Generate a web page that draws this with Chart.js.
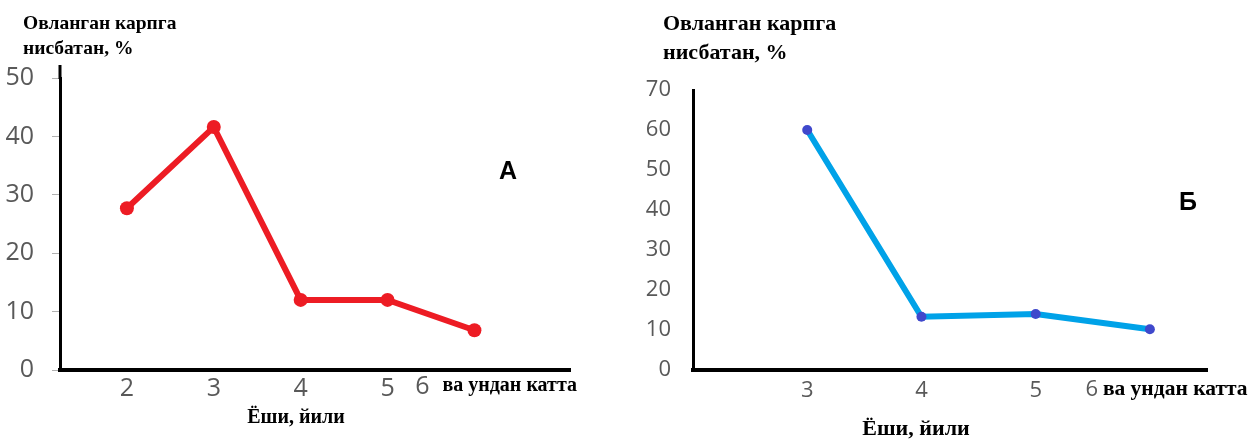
<!DOCTYPE html>
<html>
<head>
<meta charset="utf-8">
<script src="https://cdn.jsdelivr.net/npm/chart.js@4/dist/chart.umd.min.js"></script>
<style>
  body { margin: 0; background: #fff; }
  .box { position: absolute; top: 0; width: 625px; height: 441px; }
</style>
</head>
<body>
<div class="box" style="left:0"><canvas id="chartA" width="625" height="441"></canvas></div>
<div class="box" style="left:625px"><canvas id="chartB" width="625" height="441"></canvas></div>
<script>
// ages (years) and share of the catch, %
const agesA = ['2', '3', '4', '5', '6'];
const shareA = [27.7, 41.6, 12, 12, 6.8];
const agesB = ['3', '4', '5', '6'];
const shareB = [60, 13.3, 14, 10.2];
const yTicksA = [0, 10, 20, 30, 40, 50];
const yTicksB = [0, 10, 20, 30, 40, 50, 60, 70];
const yTitle = ['Овланган карпга', 'нисбатан, %'];
const xTitle = 'Ёши, йили';
const lastSuffix = 'ва ундан катта';

const tickFamily = '"Liberation Sans Narrow", "Open Sans", sans-serif';
const tickColor = '#595959';
const serif = '"Liberation Serif", serif';

function makeChart(id, o) {
  const n = o.labels.length;
  const tickFont = { family: tickFamily, size: o.tickSize };
  const textPlugin = {
    id: 'texts',
    afterDraw(chart) {
      const ctx = chart.ctx;
      const xs = chart.scales.x;
      const area = chart.chartArea;
      ctx.save();
      // y axis runs a little above the top tick
      if (o.axisOver) {
        ctx.strokeStyle = '#000';
        ctx.lineWidth = 3;
        ctx.beginPath();
        ctx.moveTo(area.left, area.top + 1);
        ctx.lineTo(area.left, area.top - o.axisOver);
        ctx.stroke();
      }
      ctx.fillStyle = '#000';
      ctx.font = 'bold ' + o.titleSize + 'px ' + serif;
      ctx.textAlign = 'left';
      ctx.textBaseline = 'middle';
      yTitle.forEach((t, i) => ctx.fillText(t, o.titleX, o.titleY + i * o.titleGap));
      ctx.textAlign = 'center';
      ctx.font = 'bold ' + o.serifSize + 'px ' + serif;
      ctx.fillText(xTitle, o.xTitleX, o.xTitleY);
      // last category label: "6" in tick style, then the bold suffix
      const px = xs.getPixelForValue(n - 1) - o.lastShift;
      ctx.font = o.tickSize + 'px ' + tickFamily;
      ctx.fillStyle = tickColor;
      ctx.fillText(o.labels[n - 1], px, o.tickY);
      ctx.font = 'bold ' + o.suffixSize + 'px ' + serif;
      ctx.fillStyle = '#000';
      ctx.textAlign = 'left';
      ctx.fillText(lastSuffix, px + o.suffixGap, o.tickY - 1);
      // panel letter
      ctx.font = 'bold 25px "Liberation Sans", sans-serif';
      ctx.textAlign = 'center';
      ctx.fillText(o.letter, o.letterX, o.letterY);
      ctx.restore();
    }
  };

  return new Chart(document.getElementById(id), {
    type: 'line',
    data: {
      datasets: [{
        data: o.values.map((v, i) => ({ x: i, y: v })),
        borderColor: o.color,
        borderWidth: 6,
        pointRadius: o.pointRadius,
        pointBackgroundColor: o.pointColor,
        pointBorderWidth: 0,
        tension: 0
      }]
    },
    options: {
      responsive: false,
      animation: false,
      layout: { padding: { top: o.area.top, right: 625 - o.area.right, left: 0, bottom: 0 } },
      plugins: { legend: { display: false }, tooltip: { enabled: false } },
      scales: {
        x: {
          type: 'linear',
          min: o.xMin,
          max: o.xMax,
          afterFit: s => { s.height = 441 - o.area.bottom; },
          afterBuildTicks: s => { s.ticks = o.labels.map((l, i) => ({ value: i })); },
          ticks: {
            font: tickFont,
            color: tickColor,
            padding: o.xPad,
            maxRotation: 0,
            callback: v => (v === n - 1 ? '' : o.labels[v])
          },
          grid: { drawOnChartArea: false, drawTicks: false, color: 'transparent' },
          border: { display: true, color: '#000', width: 4 }
        },
        y: {
          min: 0,
          max: o.yTicks[o.yTicks.length - 1],
          afterFit: s => { s.width = o.area.left; },
          afterBuildTicks: s => { s.ticks = o.yTicks.map(v => ({ value: v })); },
          ticks: { font: tickFont, color: tickColor, padding: o.yPad },
          grid: { drawOnChartArea: false, drawTicks: o.yMarks, tickLength: 8, color: '#b0b0b0', lineWidth: 1 },
          border: { display: true, color: '#000', width: 3 }
        }
      }
    },
    plugins: [textPlugin]
  });
}

makeChart('chartA', {
  labels: agesA, values: shareA, yTicks: yTicksA,
  color: '#ed1c24', pointColor: '#ed1c24', pointRadius: 7,
  area: { left: 60, right: 570, top: 78, bottom: 370 },
  xMin: -0.77, xMax: 5.1, axisOver: 13,
  tickSize: 25, xPad: 4, yPad: 18, yMarks: true,
  tickY: 387, lastShift: 52, suffixGap: 20, suffixSize: 20,
  titleX: 23, titleY: 24, titleGap: 25, titleSize: 19.5, serifSize: 20,
  xTitleX: 296, xTitleY: 418,
  letter: 'А', letterX: 508, letterY: 172
});

makeChart('chartB', {
  labels: agesB, values: shareB, yTicks: yTicksB,
  color: '#00a2e8', pointColor: '#3f48cc', pointRadius: 5,
  area: { left: 68, right: 582, top: 90, bottom: 370 },
  xMin: -1.0, xMax: 3.5, axisOver: 0,
  tickSize: 22, xPad: 8, yPad: 22, yMarks: false,
  tickY: 390, lastShift: 58, suffixGap: 11, suffixSize: 21.5,
  titleX: 38, titleY: 24, titleGap: 29, titleSize: 22, serifSize: 22,
  xTitleX: 291, xTitleY: 429,
  letter: 'Б', letterX: 563, letterY: 203
});
</script>
</body>
</html>
